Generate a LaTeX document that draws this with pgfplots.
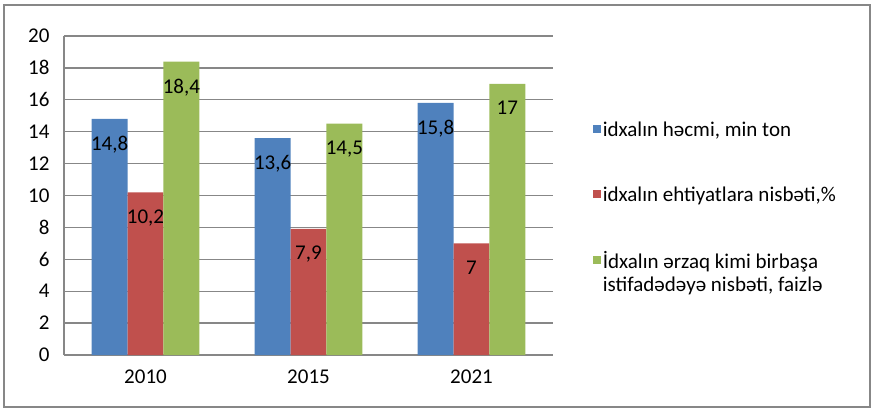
\documentclass[border=0pt]{standalone}
\usepackage{pgfplots}
\pgfplotsset{compat=1.18}
\usepackage{fontspec}
\setmainfont{Carlito}
\definecolor{cblue}{HTML}{4F81BD}
\definecolor{cred}{HTML}{C0504D}
\definecolor{cgreen}{HTML}{9BBB59}
\definecolor{gridc}{HTML}{878787}
\begin{document}
\begin{tikzpicture}
\useasboundingbox (-64bp,-56bp) rectangle (810bp,355bp);
\draw[gridc, line width=1.3bp] (-60bp,-52bp) rectangle (806bp,350bp);
\begin{axis}[
  at={(0,0)}, anchor=south west,
  scale only axis, width=489bp, height=319bp,
  font=\fontsize{21bp}{24bp}\selectfont,
  /pgf/number format/assume math mode=true,
  /pgf/number format/use comma,
  ymin=0, ymax=20, ytick={0,2,...,20},
  xmin=-0.5, xmax=2.5, xtick={0,1,2}, xticklabels={2010,2015,2021},
  axis x line=bottom, axis y line=left,
  axis line style={gridc, line width=1.8bp, -},
  major tick length=0pt,
  ymajorgrids, grid style={gridc, line width=1.3bp},
  yticklabel style={xshift=-11bp},
  xticklabel style={yshift=-11bp},
  ybar, bar width=0.22,
  nodes near coords,
  every node near coord/.append style={anchor=north, yshift=-17bp, inner sep=0pt, black},
  legend style={at={(1.075,0.745)}, anchor=north west, draw=none, fill=none,
    font=\fontsize{21bp}{23bp}\selectfont, row sep=45bp,
    cells={anchor=west}},
  legend image code/.code={\fill[#1] (0bp,-3.5bp) rectangle (8bp,4.5bp);},
]
\addplot[fill=cblue, draw=none, bar shift=-0.22] coordinates {(0,14.8) (1,13.6) (2,15.8)};
\addlegendentry{{idxalın həcmi, min ton}}
\addplot[fill=cred, draw=none, bar shift=0] coordinates {(0,10.2) (1,7.9) (2,7)};
\addlegendentry{{idxalın ehtiyatlara nisbəti,\%}}
\addplot[fill=cgreen, draw=none, bar shift=0.22] coordinates {(0,18.4) (1,14.5) (2,17)};
\addlegendentry{{\parbox[t]{260bp}{İdxalın ərzaq kimi birbaşa\\istifadədəyə nisbəti, faizlə}}}
\end{axis}
\end{tikzpicture}
\end{document}
